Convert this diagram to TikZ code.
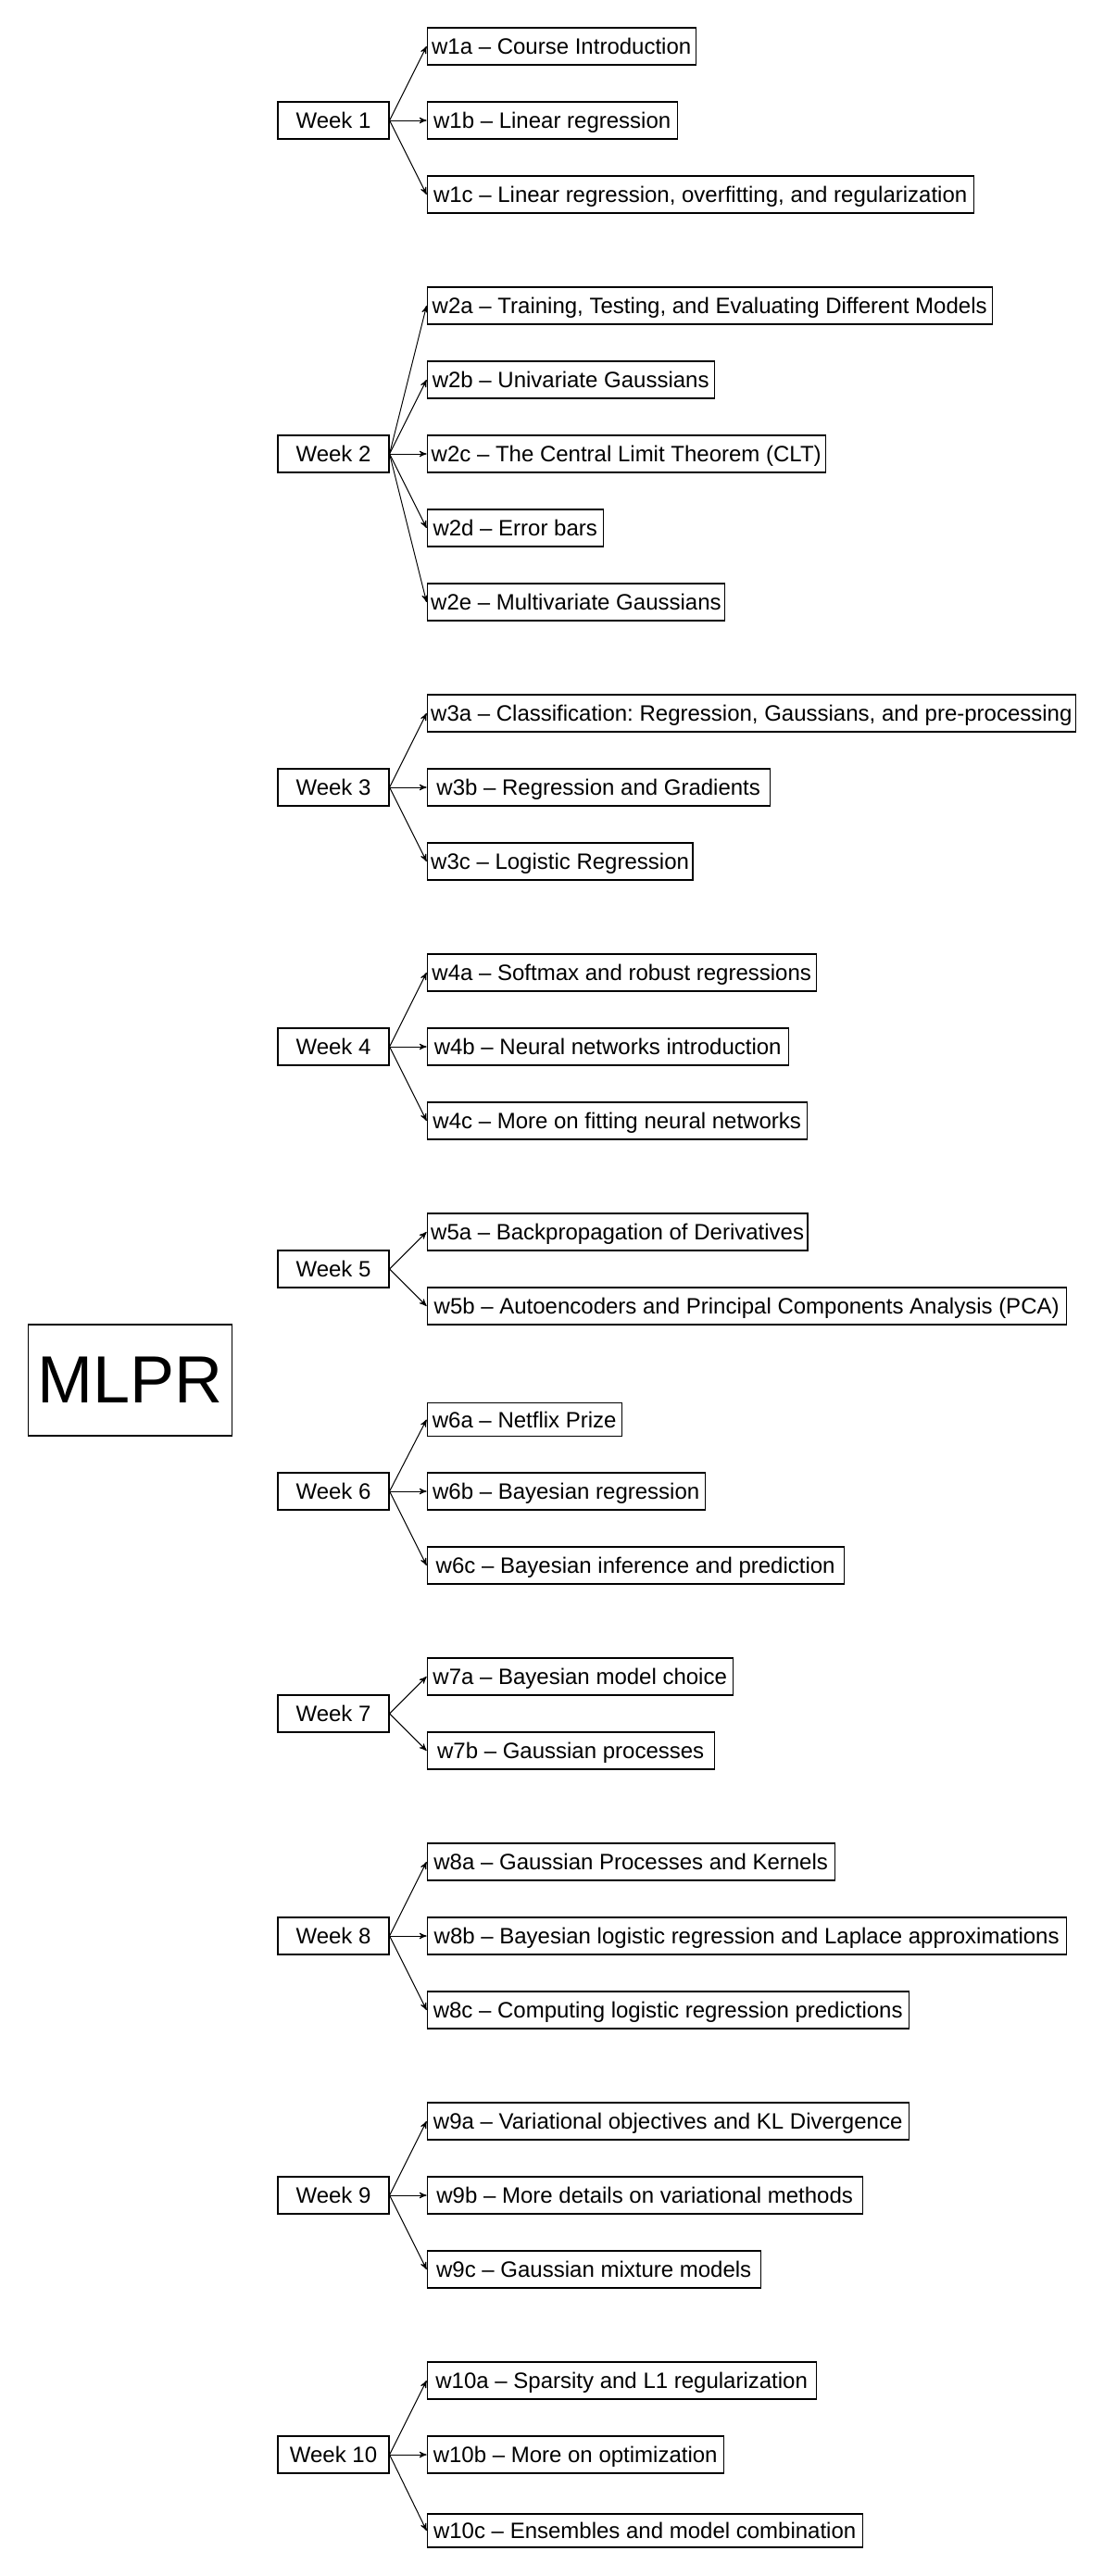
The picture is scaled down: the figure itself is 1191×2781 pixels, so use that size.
\documentclass[tikz,border=0pt]{standalone}
\usepackage{fontspec}
\setmainfont{Liberation Sans}
\usetikzlibrary{arrows, positioning}
\frenchspacing

\begin{document}
\begin{tikzpicture}[x=0.5pt,y=-0.5pt,->,>=stealth',line width=0.5pt,
    every node/.style={font=\fontsize{12}{14.4}\selectfont},
    week/.style={draw,line width=0.6pt,minimum width=60pt,minimum height=20pt,
      text height=10pt,text depth=1.4pt,inner sep=3pt},
    topic/.style={draw,line width=0.6pt,minimum height=20pt,
      text height=10pt,text depth=1.4pt,inner sep=2pt}]
  \useasboundingbox (0,0) rectangle (1191,2781);

  \node[draw,line width=0.6pt,minimum width=110pt,minimum height=60pt,
    font=\fontsize{36}{40}\selectfont] (MLPR) at (140.6,1490) {MLPR};

  \node[week] (W1)  at (360,130)  {Week 1};
  \node[week] (W2)  at (360,490)  {Week 2};
  \node[week] (W3)  at (360,850)  {Week 3};
  \node[week] (W4)  at (360,1130) {Week 4};
  \node[week] (W5)  at (360,1370) {Week 5};
  \node[week] (W6)  at (360,1610) {Week 6};
  \node[week] (W7)  at (360,1850) {Week 7};
  \node[week] (W8)  at (360,2090) {Week 8};
  \node[week] (W9)  at (360,2370) {Week 9};
  \node[week] (W10) at (360,2650) {Week 10};

  % week 1
  \node[topic,minimum width=145pt,right=20pt of W1,yshift=40pt]  (w1a) {w1a -- Course Introduction};
  \node[topic,minimum width=135pt,right=20pt of W1]              (w1b) {w1b -- Linear regression};
  \node[topic,minimum width=295pt,right=20pt of W1,yshift=-40pt] (w1c) {w1c -- Linear regression, overfitting, and regularization};
  \path (W1.east) edge (w1a.west) edge (w1b.west) edge (w1c.west);

  % week 2
  \node[topic,minimum width=305pt,right=20pt of W2,yshift=80pt]  (w2a) {w2a -- Training, Testing, and Evaluating Different Models};
  \node[topic,minimum width=155pt,right=20pt of W2,yshift=40pt]  (w2b) {w2b -- Univariate Gaussians};
  \node[topic,minimum width=215pt,right=20pt of W2]              (w2c) {w2c -- The Central Limit Theorem (CLT)};
  \node[topic,minimum width=95pt,right=20pt of W2,yshift=-40pt]  (w2d) {w2d -- Error bars};
  \node[topic,minimum width=160pt,right=20pt of W2,yshift=-80pt] (w2e) {w2e -- Multivariate Gaussians};
  \path (W2.east) edge (w2a.west) edge (w2b.west) edge (w2c.west)
    edge (w2d.west) edge (w2e.west);

  % week 3
  \node[topic,minimum width=350pt,right=20pt of W3,yshift=40pt]  (w3a) {w3a -- Classification: Regression, Gaussians, and pre-processing};
  \node[topic,minimum width=185pt,right=20pt of W3]              (w3b) {w3b -- Regression and Gradients};
  \node[topic,minimum width=142pt,right=20pt of W3,yshift=-40pt] (w3c) {w3c -- Logistic Regression};
  \path (W3.east) edge (w3a.west) edge (w3b.west) edge (w3c.west);

  % week 4
  \node[topic,minimum width=210pt,right=20pt of W4,yshift=40pt]  (w4a) {w4a -- Softmax and robust regressions};
  \node[topic,minimum width=195pt,right=20pt of W4]              (w4b) {w4b -- Neural networks introduction};
  \node[topic,minimum width=205pt,right=20pt of W4,yshift=-40pt] (w4c) {w4c -- More on fitting neural networks};
  \path (W4.east) edge (w4a.west) edge (w4b.west) edge (w4c.west);

  % week 5
  \node[topic,minimum width=205pt,right=20pt of W5,yshift=20pt]  (w5a) {w5a -- Backpropagation of Derivatives};
  \node[topic,minimum width=345pt,right=20pt of W5,yshift=-20pt] (w5b) {w5b -- Autoencoders and Principal Components Analysis (PCA)};
  \path (W5.east) edge (w5a.west) edge (w5b.west);

  % week 6
  \node[topic,minimum width=105pt,minimum height=18pt,right=20pt of W6,yshift=38.75pt] (w6a) {w6a -- Netflix Prize};
  \node[topic,minimum width=150pt,right=20pt of W6]              (w6b) {w6b -- Bayesian regression};
  \node[topic,minimum width=225pt,right=20pt of W6,yshift=-40pt] (w6c) {w6c -- Bayesian inference and prediction};
  \path (W6.east) edge (w6a.west) edge (w6b.west) edge (w6c.west);

  % week 7
  \node[topic,minimum width=165pt,right=20pt of W7,yshift=20pt]  (w7a) {w7a -- Bayesian model choice};
  \node[topic,minimum width=155pt,right=20pt of W7,yshift=-20pt] (w7b) {w7b -- Gaussian processes};
  \path (W7.east) edge (w7a.west) edge (w7b.west);

  % week 8
  \node[topic,minimum width=220pt,right=20pt of W8,yshift=40pt]  (w8a) {w8a -- Gaussian Processes and Kernels};
  \node[topic,minimum width=345pt,right=20pt of W8]              (w8b) {w8b -- Bayesian logistic regression and Laplace approximations};
  \node[topic,minimum width=260pt,right=20pt of W8,yshift=-40pt] (w8c) {w8c -- Computing logistic regression predictions};
  \path (W8.east) edge (w8a.west) edge (w8b.west) edge (w8c.west);

  % week 9
  \node[topic,minimum width=260pt,right=20pt of W9,yshift=40pt]  (w9a) {w9a -- Variational objectives and KL Divergence};
  \node[topic,minimum width=235pt,right=20pt of W9]              (w9b) {w9b -- More details on variational methods};
  \node[topic,minimum width=180pt,right=20pt of W9,yshift=-40pt] (w9c) {w9c -- Gaussian mixture models};
  \path (W9.east) edge (w9a.west) edge (w9b.west) edge (w9c.west);

  % week 10
  \node[topic,minimum width=210pt,right=20pt of W10,yshift=40pt]  (w10a) {w10a -- Sparsity and L1 regularization};
  \node[topic,minimum width=160pt,right=20pt of W10]              (w10b) {w10b -- More on optimization};
  \node[topic,minimum width=235pt,minimum height=18pt,right=20pt of W10,yshift=-41pt] (w10c) {w10c -- Ensembles and model combination};
  \path (W10.east) edge (w10a.west) edge (w10b.west) edge (w10c.west);
\end{tikzpicture}
\end{document}
